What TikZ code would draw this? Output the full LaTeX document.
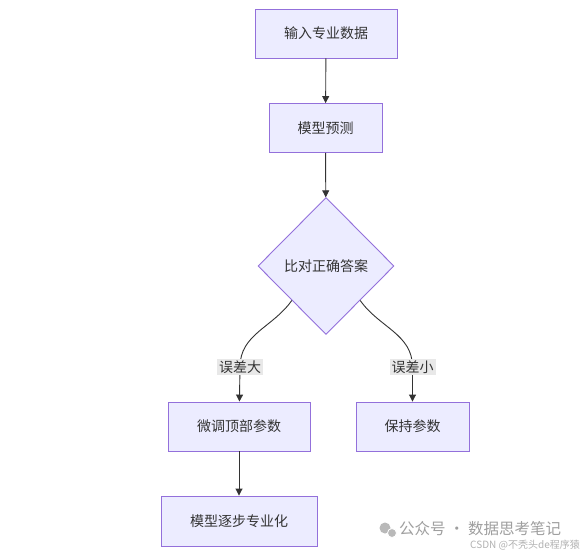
\documentclass[tikz,border=0pt]{standalone}
\usepackage{fontspec}
\setmainfont{Noto Sans CJK SC}
\usepackage{tikz}
\usetikzlibrary{arrows.meta, shapes.geometric}

\definecolor{boxfill}{HTML}{ECECFF}
\definecolor{boxline}{HTML}{9370DB}
\definecolor{linkcol}{HTML}{333333}
\definecolor{lblfill}{HTML}{E8E8E8}

\tikzset{
  stage/.style = {draw=boxline, fill=boxfill, line width=0.9pt, minimum height=49pt, inner sep=0pt, text=linkcol, font=\fontsize{14}{16}\selectfont},
  check/.style = {draw=boxline, fill=boxfill, line width=0.9pt, diamond, minimum width=136pt, minimum height=137pt, inner sep=0pt, text=linkcol, font=\fontsize{14}{16}\selectfont},
  lbl/.style = {fill=lblfill, inner sep=2pt, text=linkcol, font=\fontsize{14}{16}\selectfont},
  arr/.style = {draw=linkcol, line width=0.9pt, -{Triangle[length=7pt, width=7pt]}}
}

\begin{document}
\begin{tikzpicture}[x=1pt, y=-1pt]
\useasboundingbox[fill=white] (0,0) rectangle (584,555);
\node[stage, minimum width=142pt] (input) at (326,33.5) {输入专业数据};
\node[stage, minimum width=113pt] (pred) at (325.5,128) {模型预测};
\node[check] (cmp) at (326,266) {比对正确答案};
\node[stage, minimum width=142pt] (tune) at (239,426.5) {微调顶部参数};
\node[stage, minimum width=113pt] (keep) at (412.5,426.5) {保持参数};
\node[stage, minimum width=156pt, minimum height=50pt] (spec) at (239,521) {模型逐步专业化};
\coordinate (bigpt) at (240,367);
\coordinate (smallpt) at (412.5,367);
\draw [arr] (input) -- (pred);
\draw [arr] (pred) -- (cmp);
\draw [arr] (cmp.south west) to[out=-125, in=90] (bigpt) node[lbl]{误差大} -- (tune);
\draw [arr] (cmp.south east) to[out=-55, in=90] (smallpt) node[lbl]{误差小} -- (keep);
\draw [arr] (tune) -- (spec);
% watermark
\fill[gray!55] (385,528) circle (5.5pt);
\fill[gray!55, draw=white, line width=0.8pt] (392,533) circle (4.5pt);
\node[text=gray!75, font=\fontsize{15.5}{17}\selectfont, anchor=west, inner sep=0pt] (wm) at (399,529) {公众号 · 数据思考笔记};
\node[text=gray!60, font=\fontsize{10}{11}\selectfont, anchor=east, inner sep=0pt] (csdn) at (580,545) {CSDN @不秃头de程序猿};
\end{tikzpicture}
\end{document}
